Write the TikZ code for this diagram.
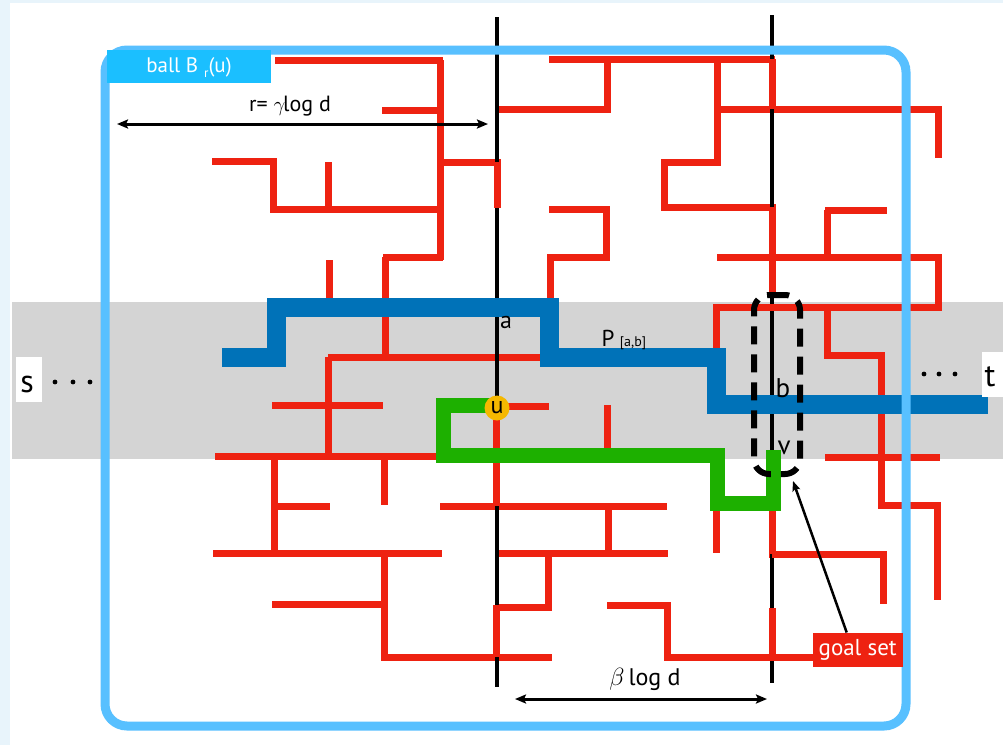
\documentclass[tikz,border=0pt]{standalone}
\usepackage{fontspec}
\setmainfont{PT Sans}
\usetikzlibrary{arrows.meta}
\definecolor{bgblue}{RGB}{232,244,251}
\definecolor{band}{RGB}{212,212,212}
\definecolor{ballc}{RGB}{88,192,255}
\definecolor{labc}{RGB}{27,191,255}
\definecolor{redc}{RGB}{238,34,17}
\definecolor{pathc}{RGB}{0,114,184}
\definecolor{greenc}{RGB}{29,176,0}
\definecolor{orangec}{RGB}{245,184,0}
\begin{document}
\begin{tikzpicture}[x=1pt,y=-1pt,
  wall/.style={draw=redc, line width=7pt, line join=miter},
  cutline/.style={draw=black, line width=3.5pt},
  pathP/.style={draw=pathc, line width=19pt, line join=miter},
  pathG/.style={draw=greenc, line width=15pt, line join=miter},
  dimarrow/.style={draw=black, line width=3pt, {Stealth[length=11pt,width=9pt,inset=2pt]}-{Stealth[length=11pt,width=9pt,inset=2pt]}},
  ptr/.style={draw=black, line width=2.5pt, -{Stealth[length=10pt,width=8pt,inset=2pt]}},
  lbl/.style={inner sep=0pt, font=\fontsize{#1}{#1}\selectfont},
  whitebox/.style={fill=white, inner sep=0pt}
]
\useasboundingbox (0,0) rectangle (1003,745);
% background
\fill[bgblue] (0,0) rectangle (1003,745);
\fill[white] (10,3) rectangle (1003,745);
% grey band
\fill[band] (12,302) rectangle (1003,459);

% red walls
\draw[wall]
  (275,60) -- (443,60)
  (440,60) -- (440,260)
  (382,110) -- (440,110)
  (383,257) -- (443,257)
  (385,257) -- (385,357)
  (212,161) -- (273,161) -- (273,209) -- (440,209)
  (328,162) -- (328,209)
  (440,162) -- (497,162) -- (497,208)
  (495,109) -- (607,109) -- (607,59)
  (549,59) -- (775,59)
  (772,59) -- (772,109)
  (717,59) -- (717,162) -- (661,162) -- (664,162) -- (664,207) -- (772,207) -- (772,297)
  (720,109) -- (938,109) -- (938,158)
  (549,209) -- (606,209) -- (606,257) -- (547,257)
  (550,257) -- (550,300)
  (825,210) -- (887,210)
  (827,210) -- (827,257)
  (717,257) -- (938,257) -- (938,307) -- (713,307)
  (716,307) -- (716,348)
  (827,307) -- (827,355) -- (881,355) -- (881,505) -- (937,505) -- (937,600)
  (825,457) -- (940,457)
  (328,357) -- (540,357)
  (329,260) -- (329,302)
  (272,405) -- (383,405)
  (328,357) -- (328,457)
  (497,406) -- (549,406)
  (607,405) -- (607,452)
  (215,456) -- (437,456)
  (274,456) -- (274,556)
  (274,506) -- (330,506)
  (384,456) -- (384,505)
  (496,413) -- (496,506)
  (440,506) -- (667,506)
  (608,506) -- (608,553)
  (213,553) -- (442,553)
  (496,553) -- (668,553)
  (548,553) -- (548,607) -- (496,607)
  (384,553) -- (384,657) -- (552,657)
  (272,604) -- (384,604)
  (496,605) -- (496,657)
  (607,605) -- (667,605) -- (667,657) -- (813,657)
  (772,608) -- (772,657)
  (716,510) -- (716,553)
  (772,510) -- (772,554) -- (883,554) -- (883,604);

% black cut lines
\draw[cutline] (497,17) -- (497,687);
\draw[cutline] (772,15) -- (772,683);
% red drawn again where it covers the black lines
\draw[wall]
  (497,162) -- (497,208)
  (772,59) -- (772,109)
  (772,207) -- (772,297)
  (713,307) -- (938,307)
  (496,413) -- (496,506)
  (496,605) -- (496,657)
  (772,510) -- (772,554)
  (772,608) -- (772,657)
  (667,657) -- (813,657)
  (772,554) -- (883,554);

% blue path P
\draw[pathP] (222,357) -- (276,357) -- (276,307) -- (549.5,307) -- (549.5,357) -- (716,357) -- (716,404) -- (988,404);
% green path
\draw[pathG] (497,405.5) -- (443.5,405.5) -- (443.5,455.5) -- (717,455.5) -- (717,503) -- (773,503) -- (773,450);

% goal set region (dashed)
\node[draw=black, line width=6pt, dash pattern=on 18pt off 10pt, rounded corners=15pt,
      minimum width=46pt, minimum height=179pt, inner sep=0pt] (goalreg) at (777,384.5) {};

% ball border
\draw[draw=ballc, line width=9pt, rounded corners=22pt] (105,50) rectangle (906,726);
\node[fill=labc, minimum width=164pt, minimum height=33pt, inner sep=0pt] (balllabel) at (189,66.5) {};
\node[lbl=21pt, text=white] (balltext) at (189,68) {ball B\kern6pt\raisebox{-5pt}{\fontsize{13pt}{13pt}\selectfont r}(u)};

% u node
\node[circle, fill=orangec, minimum size=25pt, inner sep=0pt, lbl=24pt] (u) at (497,408) {u};

% labels
\node[lbl=24pt] (la) at (506,322) {a};
\node[lbl=23pt] (lP) at (608,338) {P};
\node[lbl=14pt] (lPsub) at (633,343) {[a,b]};
\node[lbl=27pt] (lb) at (783,388) {b};
\node[lbl=27pt] (lv) at (784,448) {v};

% s and t
\node[whitebox, minimum width=26pt, minimum height=45pt] (sbox) at (29,379.5) {};
\node[lbl=32pt] (s) at (27,384) {s};
\node[whitebox, minimum width=21pt, minimum height=45pt] (tbox) at (992.5,374.5) {};
\node[lbl=32pt] (t) at (990,377) {t};
\foreach \xx in {55,73,90} \fill (\xx,382) circle (2.4pt);
\foreach \xx in {924,939,955} \fill (\xx,374) circle (2.4pt);

% dimension arrows
\coordinate (rL) at (117,124);
\coordinate (rR) at (488,124);
\draw[dimarrow] (rL) -- (rR);
\node[lbl=22pt] (rtext) at (290,106) {r= $\gamma$\kern-2pt log d};
\coordinate (bL) at (515,699);
\coordinate (bR) at (767,699);
\draw[dimarrow] (bL) -- (bR);
\node[lbl=24pt] (btext) at (645,679) {$\beta$\,log d};

% goal set
\node[fill=redc, text=white, minimum width=90pt, minimum height=34pt, inner sep=0pt, lbl=23pt] (goal) at (857.7,649.7) {goal set};
\coordinate (goaltip) at (793,481);
\draw[ptr] (goal.north) ++(-11,0) coordinate (goalfoot) (goalfoot) -- (goaltip);
\end{tikzpicture}
\end{document}
